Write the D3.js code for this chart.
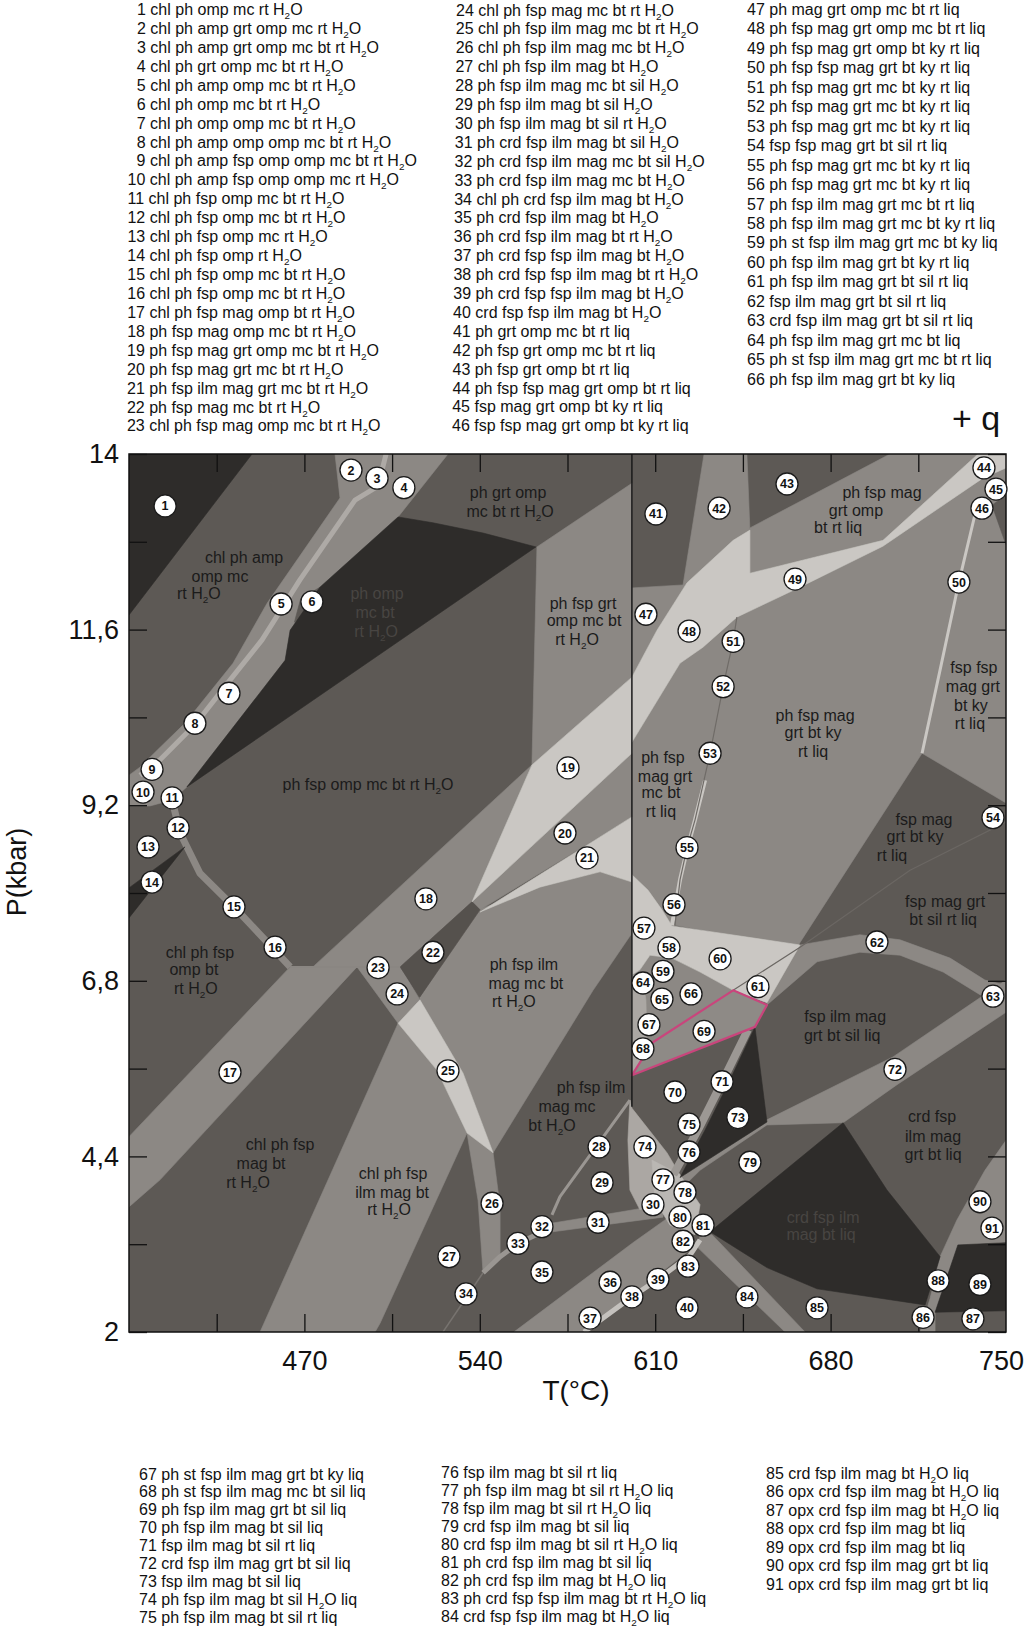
<!DOCTYPE html>
<html><head><meta charset="utf-8">
<script src="https://cdn.jsdelivr.net/npm/d3@7"></script>
<style>
html,body{margin:0;padding:0;background:#fff;}
svg{display:block;}
text{font-family:"Liberation Sans",Arial,Helvetica,sans-serif;white-space:pre;}
</style></head><body>
<svg id="chart" width="1024" height="1626"></svg>
<script>
// ---------- axis ticks ----------
const pLabelTicks = [14, 11.6, 9.2, 6.8, 4.4, 2];
const pMinorTicks = [12.8, 10.4, 8.0, 5.6, 3.2];
const tLabelTicks = [470, 540, 610, 680, 750];
const tMinorTicks = [435, 505, 575, 645, 715];

// ---------- field polygons [T(°C), P(kbar)] ----------
// dark fields
const fld_D1 = [[400,14],[449.1,14],[400,11.80]];
const fld_Domp = [[507.4,13.14],[521.3,13.06],[541.3,12.92],[562.4,12.73],[423.1,9.45],[462.3,11.18],[464.3,11.59],[476.2,12.18]];
const fld_D14 = [[422.3,8.63],[400,8.07],[400,7.66]];
const fld_D73 = [[649.8,6.17],[654.6,4.87],[619.9,4.11],[629.9,4.76],[639.8,5.44]];
const fld_Dcrd = [[631.9,3.37],[685.0,4.86],[702.5,3.94],[723.7,3.03],[717.7,2.37],[674.6,2.59],[654.6,2.88]];
const fld_D89 = [[721.7,2.27],[730.8,3.19],[750,3.22],[750,2.29]];
// mid-grey fields
const fld_G1 = [[482.2,14],[527.3,14],[507.4,13.14],[476.2,12.18],[464.3,11.59],[462.3,11.18],[423.1,9.45],[417.2,9.27],[408.4,9.19],[400,9.19],[400,9.61],[404.4,9.72],[411.2,9.95],[422.3,10.32],[441.5,11.14],[455.1,11.96],[484.2,13.40]];
const fld_G2 = [[562.8,12.73],[600.7,13.60],[600.7,10.95],[560.8,9.75]];
const fld_G17 = [[464.3,6.99],[491.0,6.99],[412.4,4.08],[400,3.71],[400,4.67]];
const fld_G18 = [[473.4,6.99],[560.8,9.75],[536.9,7.88],[508.2,6.99]];
const fld_G20 = [[536.9,7.88],[600.7,9.91],[600.7,9.04],[540.1,7.77]];
const fld_G24 = [[491.0,6.99],[508.2,6.99],[516.1,6.54],[507.4,6.22]];
const fld_Gchl = [[507.4,6.22],[522.9,5.58],[534.9,4.72],[500.2,2.12],[498.2,2.0],[452.3,2.0]];
const fld_Gph = [[516.1,6.58],[539.3,7.77],[564.0,8.08],[588.0,8.29],[600.7,8.15],[600.7,7.45],[585.2,6.67],[545.3,4.45],[533.3,5.54],[516.1,6.54]];
const fld_G26 = [[534.9,4.72],[545.3,4.45],[548.1,3.71],[548.1,3.03],[541.3,2.81],[539.3,3.80]];
const fld_G36 = [[553.6,2.0],[601.1,3.22],[616.7,3.60],[623.9,3.12],[581.6,2.0]];
const fld_G31 = [[569.2,3.49],[596.0,3.64],[613.1,3.74],[613.1,3.57],[593.2,3.48],[569.2,3.37]];
const fld_G42 = [[629.5,14],[646.6,14],[647.8,12.96],[641.1,12.82],[622.7,12.24],[621.1,12.21]];
const fld_G47 = [[600.7,12.17],[621.1,12.21],[622.7,12.24],[610.7,11.59],[600.7,10.95]];
const fld_Gomp = [[647.8,12.99],[703.7,14],[738.8,14],[700.9,12.82],[647.8,12.37]];
const fld_Gbig = [[600.7,10.06],[619.9,11.14],[629.1,11.36],[642.6,11.77],[667.8,12.18],[700.9,12.74],[740.8,13.67],[750,13.81],[750,9.23],[716.5,9.91],[666.6,7.26],[617.9,7.56],[615.1,7.47],[611.9,7.66],[607.1,7.93],[600.7,8.11]];
const fld_G66 = [[600.7,6.88],[603.9,6.95],[607.9,7.15],[616.7,7.11],[627.9,6.92],[641.1,6.67],[609.1,5.96],[600.7,5.51]];
const fld_Garc = [[654.6,6.54],[667.8,7.29],[691.7,7.43],[707.7,7.36],[727.7,7.11],[741.6,6.81],[750,6.74],[750,6.54],[739.6,6.61],[724.9,6.92],[707.7,7.15],[691.7,7.19],[674.6,7.06],[654.6,6.47]];
const fld_G72 = [[609.9,3.87],[619.9,4.11],[654.6,4.90],[704.9,5.76],[750,6.81],[750,6.37],[706.5,5.38],[685.0,4.86],[654.6,4.83],[627.9,4.21],[613.9,3.74]];
const fld_G84 = [[627.9,3.33],[632.7,3.33],[669.8,2.0],[661.8,2.0],[627.1,3.15]];
const fld_Gopx = [[715.7,2.0],[719.7,2.46],[723.7,3.03],[730.4,3.53],[741.6,4.21],[750,4.62],[750,3.22],[730.8,3.19],[721.7,2.27],[721.7,2.0]];
// darker medium fields
const fld_M22 = [[508.2,6.99],[536.9,7.88],[540.1,7.77],[516.1,6.58]];
const fld_M46 = [[744.4,13.30],[750,13.44],[750,12.76]];
const fld_M6 = [[468.5,12.02],[476.2,12.18],[470.5,11.80],[466.0,11.70]];
// light fields
const fld_VL19 = [[560.8,9.75],[600.7,10.95],[600.7,9.91],[536.9,7.88]];
const fld_VL21 = [[540.1,7.74],[600.7,9.04],[600.7,8.15],[588.0,8.29],[564.0,8.08]];
const fld_VL25 = [[507.4,6.22],[516.1,6.54],[533.3,5.54],[545.3,4.45],[534.9,4.72],[522.9,5.58]];
const fld_VLright = [[600.7,10.95],[610.7,11.59],[622.7,12.24],[641.1,12.82],[647.8,12.96],[647.8,12.37],[700.9,12.82],[738.8,14],[750,14],[750,13.81],[740.8,13.67],[700.9,12.74],[667.8,12.18],[642.6,11.77],[629.1,11.36],[619.9,11.14],[600.7,10.06]];
const fld_VL60 = [[600.7,8.25],[607.1,8.04],[612.7,7.77],[616.7,7.55],[667.8,7.29],[654.6,6.50],[641.1,6.67],[627.9,6.92],[616.7,7.11],[607.9,7.15],[603.9,6.95],[600.7,6.88]];
const fld_L74 = [[599.9,5.17],[600.7,5.06],[614.7,4.45],[619.9,4.15],[611.9,3.80],[603.9,3.67],[599.9,3.94],[599.1,4.62]];
const fld_Lnode = [[608.7,4.35],[619.9,4.15],[627.9,3.74],[625.9,3.33],[615.9,3.46],[609.9,3.80]];
const fld_L64 = [[600.7,6.88],[604.7,6.88],[606.3,6.54],[606.7,5.99],[603.5,5.69],[600.7,5.51]];
// outlined field 69
const fld_69 = [[600.7,5.51],[609.1,5.96],[641.1,6.67],[654.6,6.47],[649.8,6.17]];

// ---------- narrow fields / boundaries (polylines) ----------
const ln_G1light = [[502.6,14],[499.4,13.56],[490.2,13.37],[468.2,12.28],[453.1,11.46],[440.3,10.91],[426.3,10.30],[412.4,9.82],[404.4,9.61]];
const ln_16 = [[417.2,9.27],[420.4,8.82],[428.3,8.27],[441.9,7.81],[454.3,7.36],[464.3,6.99]];
const ln_h7 = [[464.3,6.99],[508.2,6.99]];
const ln_28 = [[568.8,3.60],[572.0,3.85],[599.9,5.17]];
const ln_33 = [[569.2,3.44],[555.2,3.21],[548.1,3.03],[541.3,2.81]];
const ln_34 = [[525.3,2.0],[541.3,2.81]];
const ln_51 = [[642.6,11.77],[641.1,11.44],[637.1,10.82],[631.9,9.91],[625.9,9.00],[622.7,8.62],[619.9,8.18],[617.9,7.56]];
const ln_55 = [[629.9,9.54],[625.9,9.00],[622.7,8.59],[619.9,8.18],[616.7,7.56]];
const ln_50 = [[737.6,13.17],[731.2,12.25],[723.7,11.05],[716.5,9.91]];
const ln_kysil = [[641.1,6.67],[667.8,7.26],[711.7,8.31],[750,8.97]];
const ln_71 = [[647.0,6.13],[637.5,5.47],[627.5,4.79],[617.3,4.15]];
const ln_37 = [[581.6,2.0],[600.7,2.48],[611.9,2.74],[623.9,3.05],[627.9,3.26]];
const ln_vert = [[600.7,14],[600.7,5.08]];

// ---------- numbered field markers [n, T, P] ----------
const circles = [
[1,414.4,13.29],[2,488.6,13.78],[3,499.0,13.67],[4,509.7,13.54],[5,460.7,11.95],[6,473.0,11.98],[7,439.9,10.73],[8,426.3,10.32],[9,409.2,9.69],[10,405.6,9.38],
[11,417.2,9.30],[12,419.6,8.89],[13,407.6,8.63],[14,409.2,8.15],[15,441.9,7.81],[16,458.3,7.26],[17,440.3,5.55],[18,518.5,7.92],[19,575.2,9.71],[20,574.0,8.82],
[21,582.8,8.48],[22,521.3,7.19],[23,499.4,6.98],[24,507.0,6.62],[25,527.3,5.57],[26,544.9,3.76],[27,527.7,3.03],[28,587.6,4.53],[29,588.8,4.04],[30,609.1,3.74],
[31,587.2,3.50],[32,564.8,3.44],[33,555.2,3.21],[34,534.5,2.52],[35,564.8,2.82],[36,592.0,2.68],[37,584.0,2.19],[38,600.7,2.48],[39,611.1,2.72],[40,622.7,2.33],
[41,610.3,13.18],[42,635.5,13.26],[43,662.6,13.59],[44,741.2,13.81],[45,746.0,13.52],[46,740.4,13.26],[47,606.3,11.81],[48,623.5,11.58],[49,665.8,12.29],[50,731.2,12.25],
[51,641.1,11.44],[52,637.1,10.82],[53,631.9,9.91],[54,744.8,9.03],[55,622.7,8.62],[56,617.5,7.84],[57,605.5,7.52],[58,615.5,7.25],[59,613.1,6.93],[60,635.9,7.10],
[61,651.0,6.72],[62,698.5,7.33],[63,744.8,6.59],[64,605.1,6.77],[65,612.7,6.55],[66,624.3,6.62],[67,607.5,6.20],[68,605.1,5.87],[69,629.5,6.11],[70,617.9,5.28],
[71,636.7,5.42],[72,705.7,5.59],[73,643.0,4.93],[74,605.9,4.53],[75,623.5,4.84],[76,623.5,4.46],[77,613.1,4.08],[78,621.9,3.91],[79,647.8,4.32],[80,619.9,3.57],
[81,629.1,3.46],[82,621.1,3.24],[83,623.1,2.90],[84,646.6,2.48],[85,674.6,2.33],[86,716.9,2.20],[87,736.8,2.18],[88,722.9,2.70],[89,739.6,2.65],[90,739.6,3.78],[91,744.4,3.42]
];

// ---------- in-field labels [text, T, P] ----------
const labelsOnLight = [
 ["chl ph amp",445.9,12.58],["omp mc",436.3,12.33],["rt H2O",427.9,12.09],
 ["ph fsp omp mc bt rt H2O",495.4,9.49],
 ["ph grt omp",551.3,13.47],["mc bt rt H2O",552.1,13.22],
 ["ph fsp grt",581.2,11.96],["omp mc bt",581.6,11.72],["rt H2O",578.8,11.47],
 ["ph fsp mag",700.5,13.48],["grt omp",690.1,13.23],["bt rt liq",683.0,12.99],
 ["fsp fsp",737.2,11.08],["mag grt",736.8,10.82],["bt ky",736.0,10.56],["rt liq",735.6,10.32],
 ["ph fsp mag",673.8,10.43],["grt bt ky",673.0,10.19],["rt liq",673.0,9.94],
 ["ph fsp",613.1,9.86],["mag grt",613.9,9.60],["mc bt",612.3,9.37],["rt liq",612.3,9.11],
 ["fsp mag",717.3,9.01],["grt bt ky",713.7,8.77],["rt liq",704.5,8.51],
 ["fsp mag grt",725.7,7.89],["bt sil rt liq",724.9,7.64],
 ["fsp ilm mag",685.8,6.31],["grt bt sil liq",684.6,6.05],
 ["crd fsp",720.5,4.94],["ilm mag",720.9,4.68],["grt bt liq",720.9,4.43],
 ["ph fsp ilm",584.4,5.34],["mag mc",574.8,5.08],["bt H2O",568.8,4.83],
 ["ph fsp ilm",557.6,7.02],["mag mc bt",558.4,6.77],["rt H2O",553.6,6.52],
 ["chl ph fsp",428.3,7.19],["omp bt",425.9,6.95],["rt H2O",426.7,6.70],
 ["chl ph fsp",460.3,4.56],["mag bt",452.7,4.31],["rt H2O",447.5,4.05],
 ["chl ph fsp",505.4,4.17],["ilm mag bt",505.0,3.91],["rt H2O",503.8,3.67]
];
const labelsOnDark = [["ph omp",499.0,12.09],["mc bt",498.2,11.83],["rt H2O",498.6,11.58],["crd fsp ilm",677.0,3.57],["mag bt liq",676.2,3.33]];

// ---------- assemblage lists ----------
const list1 = ["1 chl ph omp mc rt H2O","2 chl ph amp grt omp mc rt H2O","3 chl ph amp grt omp mc bt rt H2O","4 chl ph grt omp mc bt rt H2O","5 chl ph amp omp mc bt rt H2O","6 chl ph omp mc bt rt H2O","7 chl ph omp omp mc bt rt H2O","8 chl ph amp omp omp mc bt rt H2O","9 chl ph amp fsp omp omp mc bt rt H2O","10 chl ph amp fsp omp omp mc rt H2O","11 chl ph fsp omp mc bt rt H2O","12 chl ph fsp omp mc bt rt H2O","13 chl ph fsp omp mc rt H2O","14 chl ph fsp omp rt H2O","15 chl ph fsp omp mc bt rt H2O","16 chl ph fsp omp mc bt rt H2O","17 chl ph fsp mag omp bt rt H2O","18 ph fsp mag omp mc bt rt H2O","19 ph fsp mag grt omp mc bt rt H2O","20 ph fsp mag grt mc bt rt H2O","21 ph fsp ilm mag grt mc bt rt H2O","22 ph fsp mag mc bt rt H2O","23 chl ph fsp mag omp mc bt rt H2O"];
const list2 = ["24 chl ph fsp mag mc bt rt H2O","25 chl ph fsp ilm mag mc bt rt H2O","26 chl ph fsp ilm mag mc bt H2O","27 chl ph fsp ilm mag bt H2O","28 ph fsp ilm mag mc bt sil H2O","29 ph fsp ilm mag bt sil H2O","30 ph fsp ilm mag bt sil rt H2O","31 ph crd fsp ilm mag bt sil H2O","32 ph crd fsp ilm mag mc bt sil H2O","33 ph crd fsp ilm mag mc bt H2O","34 chl ph crd fsp ilm mag bt H2O","35 ph crd fsp ilm mag bt H2O","36 ph crd fsp ilm mag bt rt H2O","37 ph crd fsp fsp ilm mag bt H2O","38 ph crd fsp fsp ilm mag bt rt H2O","39 ph crd fsp fsp ilm mag bt H2O","40 crd fsp fsp ilm mag bt H2O","41 ph grt omp mc bt rt liq","42 ph fsp grt omp mc bt rt liq","43 ph fsp grt omp bt rt liq","44 ph fsp fsp mag grt omp bt rt liq","45 fsp mag grt omp bt ky rt liq","46 fsp fsp mag grt omp bt ky rt liq"];
const list3 = ["47 ph mag grt omp mc bt rt liq","48 ph fsp mag grt omp mc bt rt liq","49 ph fsp mag grt omp bt ky rt liq","50 ph fsp fsp mag grt bt ky rt liq","51 ph fsp mag grt mc bt ky rt liq","52 ph fsp mag grt mc bt ky rt liq","53 ph fsp mag grt mc bt ky rt liq","54 fsp fsp mag grt bt sil rt liq","55 ph fsp mag grt mc bt ky rt liq","56 ph fsp mag grt mc bt ky rt liq","57 ph fsp ilm mag grt mc bt rt liq","58 ph fsp ilm mag grt mc bt ky rt liq","59 ph st fsp ilm mag grt mc bt ky liq","60 ph fsp ilm mag grt bt ky rt liq","61 ph fsp ilm mag grt bt sil rt liq","62 fsp ilm mag grt bt sil rt liq","63 crd fsp ilm mag grt bt sil rt liq","64 ph fsp ilm mag grt mc bt liq","65 ph st fsp ilm mag grt mc bt rt liq","66 ph fsp ilm mag grt bt ky liq"];
const list4 = ["67 ph st fsp ilm mag grt bt ky liq","68 ph st fsp ilm mag mc bt sil liq","69 ph fsp ilm mag grt bt sil liq","70 ph fsp ilm mag bt sil liq","71 fsp ilm mag bt sil rt liq","72 crd fsp ilm mag grt bt sil liq","73 fsp ilm mag bt sil liq","74 ph fsp ilm mag bt sil H2O liq","75 ph fsp ilm mag bt sil rt liq"];
const list5 = ["76 fsp ilm mag bt sil rt liq","77 ph fsp ilm mag bt sil rt H2O liq","78 fsp ilm mag bt sil rt H2O liq","79 crd fsp ilm mag bt sil liq","80 crd fsp ilm mag bt sil rt H2O liq","81 ph crd fsp ilm mag bt sil liq","82 ph crd fsp ilm mag bt H2O liq","83 ph crd fsp fsp ilm mag bt rt H2O liq","84 crd fsp fsp ilm mag bt H2O liq"];
const list6 = ["85 crd fsp ilm mag bt H2O liq","86 opx crd fsp ilm mag bt H2O liq","87 opx crd fsp ilm mag bt H2O liq","88 opx crd fsp ilm mag bt liq","89 opx crd fsp ilm mag bt liq","90 opx crd fsp ilm mag grt bt liq","91 opx crd fsp ilm mag grt bt liq"];

// ---------- drawing ----------
const cM = "#5d5955", cD = "#2e2c2a", cG = "#8c8884", cL = "#aba7a3", cVL = "#cac7c3", cM2 = "#55514d";
const svg = d3.select("#chart");
const x = d3.scaleLinear().domain([400, 750]).range([129, 1006]);
const y = d3.scaleLinear().domain([2, 14]).range([1332, 454]);
const line = d3.line().x(d => x(d[0])).y(d => y(d[1]));

function addRich(t, str) {
  const parts = str.split("H2O");
  parts.forEach((p, i) => {
    if (p.length) t.append("tspan").text(p);
    if (i < parts.length - 1) {
      t.append("tspan").text("H");
      t.append("tspan").attr("font-size", "0.62em").attr("dy", 4).text("2");
      t.append("tspan").attr("dy", -4).text("O");
    }
  });
}

svg.append("defs").append("clipPath").attr("id", "plotclip")
  .append("rect").attr("x", x(400)).attr("y", y(14)).attr("width", x(750) - x(400)).attr("height", y(2) - y(14));

const plot = svg.append("g").attr("clip-path", "url(#plotclip)");
plot.append("rect").attr("x", x(400)).attr("y", y(14)).attr("width", x(750) - x(400)).attr("height", y(2) - y(14)).attr("fill", cM);

function fillPolys(list, color) {
  plot.append("g").selectAll("path").data(list).join("path")
    .attr("d", d => line(d) + "Z").attr("fill", color).attr("stroke", color).attr("stroke-width", 0.6);
}
function strokeLine(pts, color, w) {
  plot.append("path").attr("d", line(pts)).attr("fill", "none").attr("stroke", color)
    .attr("stroke-width", w).attr("stroke-linejoin", "round").attr("stroke-linecap", "butt");
}

fillPolys([fld_G1, fld_G2, fld_G17, fld_G18, fld_G20, fld_G24, fld_Gchl, fld_Gph, fld_G26, fld_G36, fld_G31,
  fld_G42, fld_G47, fld_Gomp, fld_Gbig, fld_G66, fld_Garc, fld_G72, fld_G84, fld_Gopx], cG);
fillPolys([fld_M22], cM2);
fillPolys([fld_M46, fld_M6], cM);
fillPolys([fld_VL19, fld_VL21, fld_VL25, fld_VLright, fld_VL60], cVL);
fillPolys([fld_L74, fld_L64], cL);
fillPolys([fld_Lnode], "#bab7b3");

strokeLine(ln_G1light, "#aeaaa6", 5);
strokeLine(ln_16, cG, 7);
strokeLine(ln_h7, "#8a8682", 2);
strokeLine(ln_28, "#9a9692", 3);
strokeLine(ln_33, "#9a9692", 5);
strokeLine(ln_34, "#77736f", 1.5);
strokeLine(ln_55, cVL, 4);
strokeLine(ln_51, "#6f6b67", 1.2);
strokeLine(ln_50, cVL, 3);
strokeLine(ln_71, "#9c9894", 8);
strokeLine(ln_37, "#c4c1bd", 5);

fillPolys([fld_D1, fld_Domp, fld_D14, fld_D73, fld_Dcrd, fld_D89], cD);
strokeLine(ln_kysil, "#6b6763", 1.2);

plot.append("path").attr("d", line(fld_69) + "Z").attr("fill", "#8e8a86")
  .attr("stroke", "#c9457c").attr("stroke-width", 2.2).attr("stroke-linejoin", "round");

strokeLine(ln_vert, "#1a1a1a", 1.5);

// field labels
function drawLabels(arr, color) {
  arr.forEach(([s, t, p]) => {
    const tx = svg.append("text").attr("x", x(t)).attr("y", y(p)).attr("dy", "0.35em")
      .attr("text-anchor", "middle").attr("font-size", 16).attr("fill", color);
    addRich(tx, s);
  });
}
drawLabels(labelsOnLight, "#1b1b1b");
drawLabels(labelsOnDark, "#484542");

// frame + axes
svg.append("rect").attr("x", x(400)).attr("y", y(14)).attr("width", x(750) - x(400)).attr("height", y(2) - y(14))
  .attr("fill", "none").attr("stroke", "#111").attr("stroke-width", 1.5);

const tAll = tMinorTicks.concat(tLabelTicks.filter(d => d < 750)).sort((a, b) => a - b);
const pAll = pMinorTicks.concat(pLabelTicks).sort((a, b) => a - b);
const fmtP = d => pLabelTicks.includes(d) ? String(d).replace(".", ",") : "";

function styleAxis(g) {
  g.select(".domain").remove();
  g.attr("font-family", "'Liberation Sans', Arial, sans-serif").attr("font-size", 27).attr("color", "#111");
  g.selectAll(".tick line").attr("stroke-width", 1.3);
}
svg.append("g").attr("transform", `translate(0,${y(2)})`)
  .call(d3.axisBottom(x).tickValues(tAll).tickSize(-18).tickFormat(""))
  .call(styleAxis);
svg.append("g").attr("transform", `translate(0,${y(14)})`)
  .call(d3.axisTop(x).tickValues(tAll).tickSize(-18).tickFormat(""))
  .call(styleAxis);
svg.append("g").attr("transform", `translate(${x(750)},0)`)
  .call(d3.axisRight(y).tickValues(pAll).tickSize(-18).tickFormat(""))
  .call(styleAxis);
svg.append("g").attr("transform", `translate(${x(400)},0)`)
  .call(d3.axisLeft(y).tickValues(pAll).tickSize(-18).tickPadding(10).tickFormat(fmtP))
  .call(styleAxis);
// x tick labels
const xl = svg.append("g").attr("transform", `translate(0,${y(2)})`)
  .call(d3.axisBottom(x).tickValues(tLabelTicks).tickSize(0).tickPadding(19).tickFormat(d => d))
  .call(styleAxis);
xl.selectAll(".tick text").filter(d => d === 750).attr("dx", -5);

svg.append("text").attr("x", 576).attr("y", 1400).attr("text-anchor", "middle").attr("font-size", 28).attr("fill", "#111").text("T(°C)");
svg.append("text").attr("transform", "translate(26,872) rotate(-90)").attr("text-anchor", "middle").attr("font-size", 27).attr("fill", "#111").text("P(kbar)");
svg.append("text").attr("x", 952).attr("y", 430).attr("font-size", 34).attr("fill", "#111").text("+ q");

// numbered markers
const mk = svg.append("g").selectAll("g").data(circles).join("g")
  .attr("transform", d => `translate(${x(d[1])},${y(d[2])})`);
mk.append("circle").attr("r", 11).attr("fill", "#fff").attr("stroke", "#1a1a1a").attr("stroke-width", 1.3);
mk.append("text").attr("text-anchor", "middle").attr("dy", "0.36em").attr("font-size", 12.5)
  .attr("font-weight", "bold").attr("fill", "#111").text(d => d[0]);

// assemblage lists
function drawList(arr, xs, y0, dy, size) {
  arr.forEach((s, i) => {
    const num = parseInt(s, 10);
    const tx = svg.append("text").attr("x", typeof xs === "function" ? xs(num, i) : xs)
      .attr("y", y0 + i * dy).attr("font-size", size).attr("fill", "#111");
    addRich(tx, s);
  });
}
drawList(list1, (n, i) => (n < 10 ? 137 : 128) - i * 0.05, 15, 18.93, 16);
drawList(list2, (n, i) => 456 - i * 0.18, 15.5, 18.9, 16);
drawList(list3, 747, 15, 19.45, 16);
drawList(list4, 139, 1479.5, 17.9, 16);
drawList(list5, 441, 1477.5, 18, 16);
drawList(list6, 766, 1478.5, 18.5, 16);
</script></body></html>
